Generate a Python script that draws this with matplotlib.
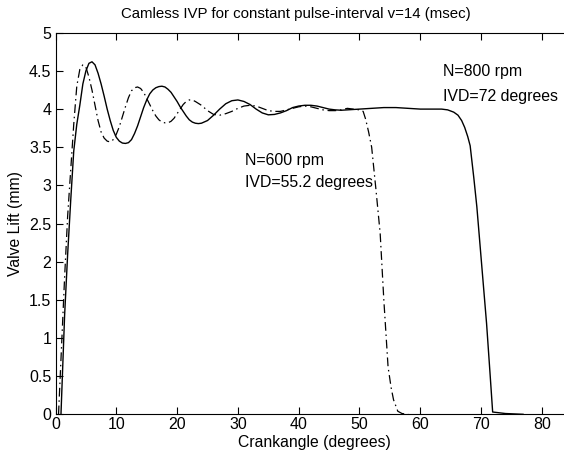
import matplotlib
matplotlib.use("Agg")
import matplotlib.pyplot as plt

plt.rcParams['font.family'] = ['Liberation Sans', 'DejaVu Sans']

title = "Camless IVP for constant pulse-interval v=14 (msec)"
xlabel = "Crankangle (degrees)"
ylabel = "Valve Lift (mm)"

# N=800 rpm (solid)
x800 = [0.9, 1.5, 2.0, 2.5, 3.0, 3.5, 4.0, 4.5, 5.0, 5.5, 6.0, 6.5, 7.0, 7.5, 8.0, 8.5,
        9.0, 9.5, 10.0, 10.5, 11.0, 11.5, 12.0, 12.5, 13.0, 13.5, 14.0, 14.5, 15.0, 15.5,
        16.0, 16.5, 17.0, 17.5, 18.0, 18.5, 19.0, 19.5, 20.0, 20.5, 21.0, 21.5, 22.0, 22.5,
        23.0, 23.5, 24.0, 25, 26, 27, 28, 29, 30, 31, 32, 33, 34, 35, 36, 37, 38, 39, 40,
        41, 42, 43, 44, 45, 46, 47, 48, 50, 52, 54, 56, 58, 60, 62, 63.5, 64.5, 65.5, 66.2,
        66.8, 67.3, 67.8, 68.2, 68.8, 69.3, 70.0, 70.9, 71.5, 71.9, 74, 76.9]
y800 = [0.0, 1.3, 2.1, 2.8, 3.45, 3.8, 4.05, 4.33, 4.5, 4.6, 4.62, 4.58, 4.47, 4.33, 4.17, 4.0,
        3.85, 3.72, 3.63, 3.58, 3.555, 3.55, 3.56, 3.6, 3.68, 3.78, 3.9, 4.02, 4.12, 4.2,
        4.25, 4.28, 4.295, 4.3, 4.29, 4.26, 4.22, 4.16, 4.1, 4.03, 3.97, 3.91, 3.86, 3.83,
        3.815, 3.81, 3.815, 3.85, 3.92, 4.0, 4.07, 4.11, 4.12, 4.1, 4.06, 4.0, 3.95, 3.925,
        3.93, 3.95, 3.98, 4.02, 4.04, 4.05, 4.05, 4.04, 4.02, 4.0, 3.99, 3.985, 3.99, 4.0,
        4.01, 4.02, 4.02, 4.01, 4.0, 4.0, 4.0, 3.99, 3.96, 3.92, 3.85, 3.76, 3.64, 3.52,
        3.1, 2.72, 2.05, 1.19, 0.5, 0.03, 0.01, 0.0]

# N=600 rpm (dash-dot)
x600 = [0.5, 1.0, 1.5, 2.0, 2.5, 3.0, 3.5, 4.0, 4.5, 5.0, 5.5, 6.0, 6.5, 7.0, 7.5, 8.0, 8.5,
        9.0, 9.5, 10.0, 10.5, 11.0, 11.5, 12.0, 12.5, 13.0, 13.5, 14.0, 14.5, 15.0, 15.5,
        16.0, 16.5, 17.0, 17.5, 18.0, 18.5, 19.0, 19.5, 20.0, 20.5, 21.0, 21.5, 22.0, 22.5,
        23.0, 24, 25, 26, 27, 28, 29, 30, 31, 32, 33, 34, 35, 36, 37, 38, 39, 40, 41, 42,
        43, 44, 45, 46, 47, 48, 49, 50, 50.6, 51.0, 51.5, 52.0, 52.7, 53.4, 54.0, 54.7,
        55.2, 55.6, 56.3, 57, 58]
y600 = [0.0, 0.9, 1.8, 2.6, 3.2, 3.8, 4.3, 4.52, 4.58, 4.55, 4.42, 4.25, 4.05, 3.85, 3.7,
        3.62, 3.58, 3.57, 3.6, 3.67, 3.77, 3.9, 4.03, 4.15, 4.24, 4.28, 4.29, 4.27, 4.22,
        4.14, 4.06, 3.98, 3.91, 3.86, 3.83, 3.82, 3.82, 3.84, 3.88, 3.94, 4.0, 4.06, 4.1,
        4.12, 4.12, 4.1, 4.05, 3.98, 3.93, 3.92, 3.94, 3.97, 4.01, 4.04, 4.05, 4.04, 4.01,
        3.98, 3.97, 3.97, 3.99, 4.01, 4.03, 4.04, 4.03, 4.01, 3.99, 3.98, 3.98, 3.99, 4.01,
        4.0, 3.99, 3.97, 3.87, 3.7, 3.5, 2.95, 2.37, 1.5, 0.62, 0.35, 0.19, 0.04, 0.01, 0.0]

xticks = [0, 10, 20, 30, 40, 50, 60, 70, 80]
yticks = [0, 0.5, 1, 1.5, 2, 2.5, 3, 3.5, 4, 4.5, 5]
yticklabels = ["0", "0.5", "1", "1.5", "2", "2.5", "3", "3.5", "4", "4.5", "5"]

fig = plt.figure(figsize=(5.64, 4.59), dpi=100)
W, H = 564, 459
x0px, y0px = 55.5, 414.3
pxx = 6.08
pxy = 76.3
xmax = 85
ax = fig.add_axes([x0px / W, (H - y0px) / H, xmax * pxx / W, 5 * pxy / H])

ax.plot(x800, y800, color='black', lw=1.0, linestyle='-')
ax.plot(x600, y600, color='black', lw=0.9, linestyle=(0, (7, 3, 1.2, 3)))

ax.set_xlim(0, xmax)
ax.set_ylim(0, 5)
ax.set_xticks(xticks)
ax.set_xticklabels([str(t) for t in xticks])
ax.set_yticks(yticks)
ax.set_yticklabels(yticklabels)
ax.tick_params(direction='in', length=5, width=0.8, labelsize=11.5, top=True,
               right=False, pad=3)
ax.tick_params(axis='x', pad=2)
ax.spines['right'].set_visible(False)
for s in ['left', 'bottom', 'top']:
    ax.spines[s].set_linewidth(0.8)

ax.set_xlabel(xlabel, fontsize=11.3, labelpad=2)
ax.set_ylabel(ylabel, fontsize=11.3, labelpad=4)
fig.text(296 / W, 1 - 14 / H, title, fontsize=10.8, ha='center', va='center')

ax.text(63.8, 4.49, "N=800 rpm", fontsize=11.4, va='center', ha='left')
ax.text(63.8, 4.165, "IVD=72 degrees", fontsize=11.4, va='center', ha='left')
ax.text(31.2, 3.32, "N=600 rpm", fontsize=11.4, va='center', ha='left')
ax.text(31.2, 3.04, "IVD=55.2 degrees", fontsize=11.4, va='center', ha='left')

fig.savefig("out.png", dpi=100)
